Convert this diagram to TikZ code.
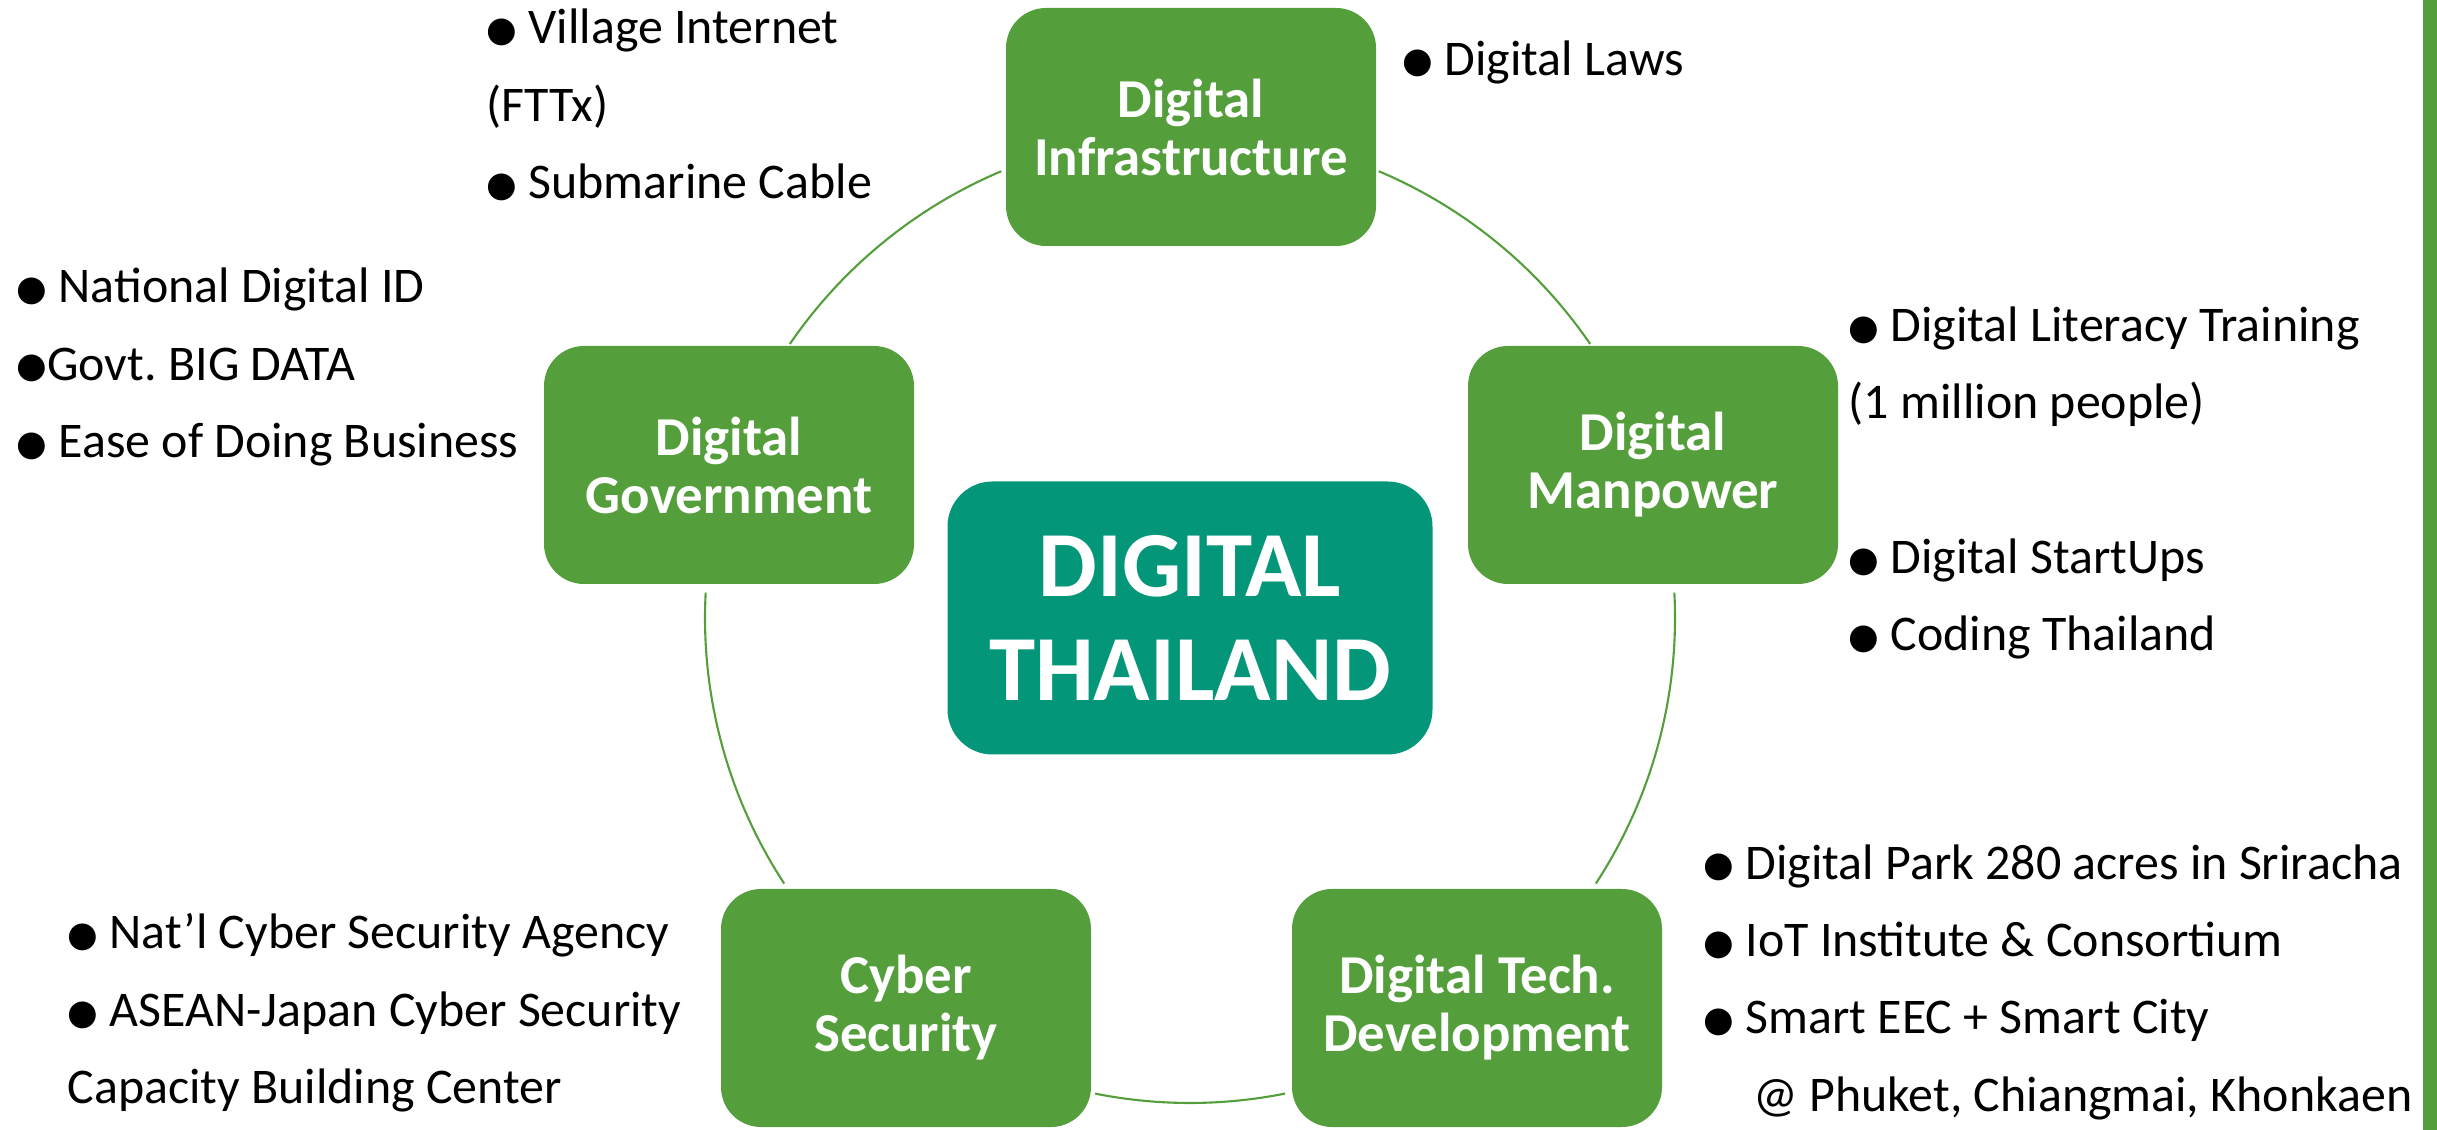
\documentclass[tikz,border=0pt]{standalone}
\usepackage{fontspec}
\setmainfont{Carlito}
\newfontfamily\dejavu{DejaVu Sans}
\usetikzlibrary{positioning,calc}
\definecolor{leafgreen}{RGB}{84,159,59}
\definecolor{hubteal}{RGB}{4,150,120}
\newcommand{\bul}{\raisebox{0.6pt}{\dejavu\fontsize{10pt}{10pt}\selectfont ●}}

\begin{document}
\begin{tikzpicture}[
  pillar/.style={rectangle, rounded corners=0.4cm, fill=leafgreen, text=white, minimum width=3.7cm, minimum height=2.38cm, align=center, font=\bfseries\fontsize{15.6pt}{16.5pt}\selectfont},
  hubbox/.style={rectangle, rounded corners=0.45cm, fill=hubteal, text=white, minimum width=4.85cm, minimum height=2.73cm, align=center, font=\bfseries\fontsize{26.5pt}{29.5pt}\selectfont},
  notes/.style={anchor=west, inner sep=0pt, align=left, font=\fontsize{14.2pt}{22pt}\selectfont},
  ring/.style={draw=leafgreen, line width=0.6pt}
]
\useasboundingbox (0,0) rectangle (24.37,-11.30);

% Centre
\node[hubbox] (hub) at (11.90,-6.18) {DIGITAL\\THAILAND};

% Cycle arcs
\foreach \a/\b in {145.6/112.9, 67.1/34.4, 3/-33.2, 281.3/258.7, 213.2/177}
  \draw[ring] ([shift={(\a:4.85)}]hub.center) arc (\a:\b:4.85);

% Pillars
\node[pillar] (infra) at (11.91,-1.27) {Digital\\Infrastructure};
\node[pillar] (gov) at (7.29,-4.65) {Digital\\Government};
\node[pillar] (manpower) at (16.53,-4.65) {Digital\\Manpower};
\node[pillar] (cyber) at (9.06,-10.08) {Cyber\\Security};
\node[pillar] (techdev) at (14.77,-10.08) {Digital Tech.\\Development};

% Notes
\node[notes] (infranotes) at (4.86,-1.05) {\bul\ Village Internet\\(FTTx)\\\bul\ Submarine Cable};
\node[notes] (lawnotes) at (14.02,-0.62) {\bul\ Digital Laws};
\node[notes] (govnotes) at (0.16,-3.67) {\bul\ National Digital ID\\\bul Govt.\ BIG DATA\\\bul\ Ease of Doing Business};
\node[notes] (mannotes) at (18.48,-4.83) {\bul\ Digital Literacy Training\\(1 million people)\\[22pt]\bul\ Digital StartUps\\\bul\ Coding Thailand};
\node[notes] (technotes) at (17.03,-9.82) {\bul\ Digital Park 280 acres in Sriracha\\\bul\ IoT Institute \& Consortium\\\bul\ Smart EEC + Smart City\\\hspace*{1em}@ Phuket, Chiangmai, Khonkaen};
\node[notes] (cybernotes) at (0.67,-10.13) {\bul\ Nat’l Cyber Security Agency\\\bul\ ASEAN-Japan Cyber Security\\Capacity Building Center};

% Side bar
\fill[leafgreen] (24.23,0) rectangle (24.37,-11.30);
\end{tikzpicture}
\end{document}
